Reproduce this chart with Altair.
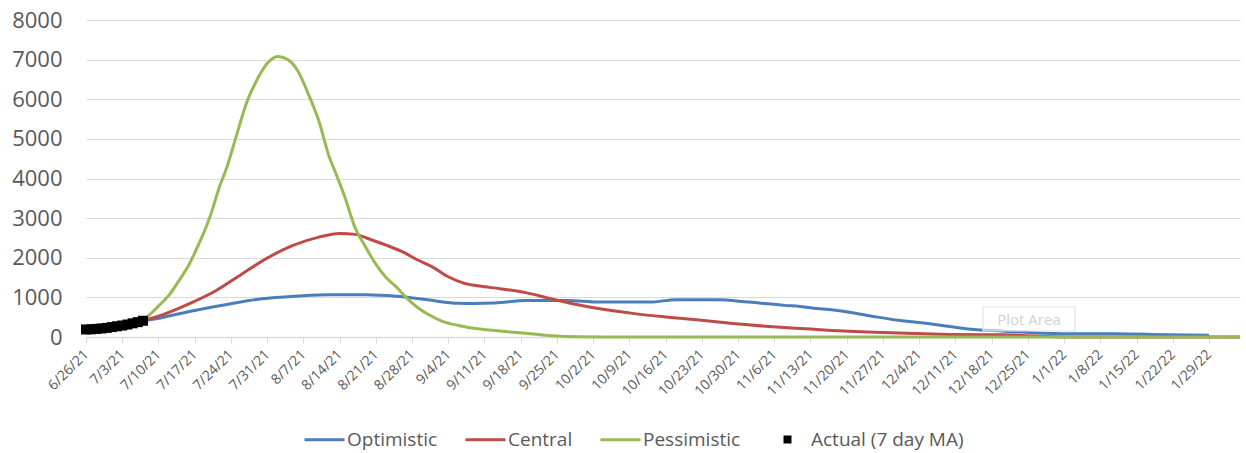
import altair as alt
import pandas as pd

# Daily COVID case projections, day offsets counted from 6/26/21
SERIES = ["Optimistic", "Central", "Pessimistic"]
COLORS = ["#4A7EBB", "#BE4B48", "#98B954"]
ACTUAL = "Actual (7 day MA)"

opt_days = [0, 4, 8, 11, 15, 21, 28, 34, 41, 47, 54, 60, 66, 72, 75, 79, 85, 93, 99,
            109, 114, 122, 128, 135, 138, 142, 144, 151, 157, 164, 170, 177, 183,
            190, 199, 209, 217]
opt_vals = [190, 235, 320, 400, 500, 670, 840, 965, 1035, 1068, 1068, 1030, 940, 850,
            845, 856, 920, 924, 882, 882, 942, 942, 882, 798, 770, 710, 690, 545, 420,
            318, 210, 150, 108, 83, 80, 58, 45]

cen_days = [0, 4, 8, 11, 15, 20, 25, 30, 35, 40, 45, 49, 52, 55, 58, 61, 64, 67, 70,
            73, 76, 80, 85, 90, 94, 99, 106, 112, 119, 125, 132, 138, 144, 151, 157,
            167, 177, 181, 186, 190, 223]
cen_vals = [190, 235, 320, 410, 570, 840, 1160, 1580, 1990, 2310, 2520, 2610, 2590,
            2460, 2320, 2160, 1950, 1765, 1520, 1360, 1285, 1220, 1120, 960, 840, 720,
            590, 505, 420, 340, 265, 215, 167, 124, 98, 66, 55, 40, 10, 0, 0]

pes_days = [0, 4, 8, 11, 14, 16, 18, 20, 21, 24, 26, 27, 29, 31, 33, 35, 37, 39, 41,
            43, 45, 47, 48, 50, 52, 54, 56, 58, 60, 62, 64, 66, 69, 72, 76, 80, 85,
            90, 95, 100, 223]
pes_vals = [190, 235, 320, 430, 780, 1050, 1430, 1850, 2120, 3050, 3870, 4200, 5050,
            5900, 6480, 6900, 7080, 7000, 6700, 6120, 5450, 4550, 4220, 3540, 2760,
            2280, 1840, 1500, 1260, 980, 750, 580, 390, 290, 200, 150, 95, 30, 5, 0, 0]

act_days = [0, 1, 2, 3, 4, 5, 6, 7, 8, 9, 10, 11]
act_vals = [190, 195, 205, 215, 230, 250, 270, 290, 315, 345, 375, 410]

tick_labels = ["6/26/21", "7/3/21", "7/10/21", "7/17/21", "7/24/21", "7/31/21",
               "8/7/21", "8/14/21", "8/21/21", "8/28/21", "9/4/21", "9/11/21",
               "9/18/21", "9/25/21", "10/2/21", "10/9/21", "10/16/21", "10/23/21",
               "10/30/21", "11/6/21", "11/13/21", "11/20/21", "11/27/21", "12/4/21",
               "12/11/21", "12/18/21", "12/25/21", "1/1/22", "1/8/22", "1/15/22",
               "1/22/22", "1/29/22"]
y_ticks = [0, 1000, 2000, 3000, 4000, 5000, 6000, 7000, 8000]

FONT = "Open Sans"
GREY_TEXT = "#595959"

proj = pd.concat([
    pd.DataFrame({"day": d, "cases": v, "series": s})
    for s, d, v in zip(SERIES, [opt_days, cen_days, pes_days],
                       [opt_vals, cen_vals, pes_vals])
], ignore_index=True)
actual = pd.DataFrame({"day": act_days, "cases": act_vals, "kind": ACTUAL})

label_expr = "[" + ",".join(f"'{t}'" for t in tick_labels) + "][round(datum.value / 7)]"

x_enc = alt.X(
    "day:Q",
    scale=alt.Scale(domain=[0, 223], nice=False, zero=False),
    axis=alt.Axis(
        values=[7 * i for i in range(len(tick_labels))],
        labelExpr=label_expr,
        labelAngle=-45,
        labelAlign="right",
        labelBaseline="middle",
        labelPadding=9,
        labelFont=FONT,
        labelFontSize=14,
        labelColor=GREY_TEXT,
        labelOverlap=False,
        labelFlush=False,
        domainColor="#D9D9D9",
        domainWidth=1.5,
        tickColor="#D9D9D9",
        tickSize=6,
        grid=False,
        title=None,
    ),
)
y_enc = alt.Y(
    "cases:Q",
    scale=alt.Scale(domain=[0, 8000], nice=False),
    axis=alt.Axis(
        values=y_ticks,
        format="d",
        labelFont=FONT,
        labelFontSize=22,
        labelColor=GREY_TEXT,
        labelPadding=24,
        labelOverlap=False,
        labelFlush=False,
        domain=False,
        ticks=False,
        gridColor="#D9D9D9",
        gridWidth=1.2,
        title=None,
    ),
)

lines = alt.Chart(proj).mark_line(strokeWidth=3, interpolate="monotone").encode(
    x=x_enc,
    y=y_enc,
    detail="series:N",
    order="day:Q",
    color=alt.Color(
        "series:N",
        scale=alt.Scale(domain=SERIES, range=COLORS),
        sort=SERIES,
        legend=alt.Legend(
            orient="none", legendX=217, legendY=398, direction="horizontal",
            title=None, symbolType="stroke", symbolSize=1600, symbolStrokeWidth=3,
            labelFont=FONT, labelFontSize=19, labelColor=GREY_TEXT,
            labelOffset=1, columnPadding=21,
        ),
    ),
)

squares = alt.Chart(actual).mark_point(filled=True, color="black", opacity=1, size=100).encode(
    x=x_enc,
    y=y_enc,
    shape=alt.Shape(
        "kind:N",
        scale=alt.Scale(domain=[ACTUAL], range=["square"]),
        legend=alt.Legend(
            orient="none", legendX=692, legendY=410, title=None,
            symbolSize=64, symbolFillColor="black", symbolStrokeWidth=0,
            labelFont=FONT, labelFontSize=19, labelColor=GREY_TEXT, labelOffset=14,
        ),
    ),
)

# hover tooltip box left over on the plot area
tip_box = alt.Chart(pd.DataFrame({"t": ["Plot Area"]})).mark_rect(
    fill="white", fillOpacity=0.55, stroke="#E3E3E3", strokeWidth=1.2
).encode(x=alt.value(897), x2=alt.value(989), y=alt.value(287), y2=alt.value(311))
tip_text = alt.Chart(pd.DataFrame({"t": ["Plot Area"]})).mark_text(
    font=FONT, fontSize=15, color="#D2D2D2", align="center", baseline="middle"
).encode(x=alt.value(943), y=alt.value(300), text="t:N")

chart = alt.layer(lines, squares, tip_box, tip_text).resolve_legend(
    color="independent", shape="independent"
).properties(
    width=1154,
    height=317,
    padding={"left": 86, "top": 20, "right": 6, "bottom": 116},
    autosize=alt.AutoSizeParams(type="none"),
    background="white",
).configure_view(stroke=None)

chart.save("out.html", embed_options={"renderer": "svg", "actions": False})
